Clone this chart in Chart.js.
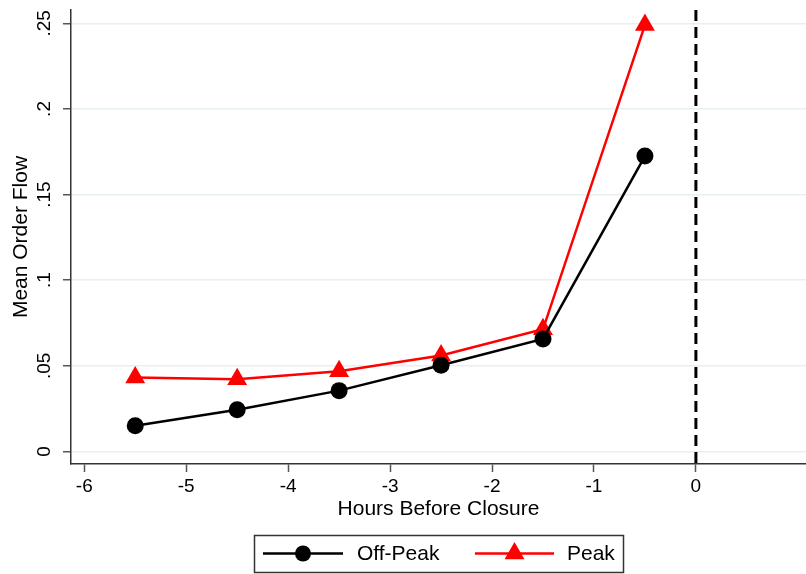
<!DOCTYPE html>
<html>
<head>
<meta charset="utf-8">
<script src="https://cdn.jsdelivr.net/npm/chart.js@4.4.0/dist/chart.umd.min.js"></script>
<style>
  html, body { margin: 0; padding: 0; background: #fff; }
  #wrap { width: 806px; height: 574px; }
</style>
</head>
<body>
<div id="wrap"><canvas id="flowChart"></canvas></div>
<script>
// hours before closure (x positions)
var hours = [-5.5, -4.5, -3.5, -2.5, -1.5, -0.5];
// mean order flow per series
var offPeak = [0.0150, 0.0243, 0.0355, 0.0503, 0.0657, 0.1725];
var peak = [0.0432, 0.0421, 0.0468, 0.0560, 0.0713, 0.2490];
var xTicks = [-6, -5, -4, -3, -2, -1, 0];
var yTicks = [0, 0.05, 0.1, 0.15, 0.2, 0.25];

var FONT = '"Liberation Sans", Arial, sans-serif';

function pts(ys) {
    return hours.map(function (h, i) { return { x: h, y: ys[i] }; });
}

function yLabel(v) {
    if (v === 0) return '0';
    return String(+v.toFixed(2)).replace(/^0/, '');
}

// y tick labels are vertical in the original, draw them rotated
var rotatedYLabels = {
    id: 'rotatedYLabels',
    afterDraw: function (chart) {
        var ctx = chart.ctx;
        var ys = chart.scales.y;
        ctx.save();
        ctx.fillStyle = '#000';
        ctx.font = '19px ' + FONT;
        ctx.textAlign = 'center';
        ctx.textBaseline = 'middle';
        yTicks.forEach(function (v) {
            var py = ys.getPixelForValue(v);
            ctx.save();
            ctx.translate(45, py);
            ctx.rotate(-Math.PI / 2);
            ctx.fillText(yLabel(v), 0, 0);
            ctx.restore();
        });
        ctx.restore();
    }
};

// dashed line at closure (x = 0)
var closureLine = {
    id: 'closureLine',
    beforeDatasetsDraw: function (chart) {
        var ctx = chart.ctx;
        var a = chart.chartArea;
        var px = chart.scales.x.getPixelForValue(0);
        ctx.save();
        ctx.strokeStyle = '#000';
        ctx.lineWidth = 3;
        ctx.setLineDash([11, 6]);
        ctx.beginPath();
        ctx.moveTo(px, a.top);
        ctx.lineTo(px, a.bottom);
        ctx.stroke();
        ctx.restore();
    }
};

// boxed legend under the chart
var boxLegend = {
    id: 'boxLegend',
    afterDraw: function (chart) {
        var ctx = chart.ctx;
        ctx.save();
        ctx.strokeStyle = '#333';
        ctx.lineWidth = 1.5;
        ctx.strokeRect(254.5, 535.5, 369, 37);
        var cy = 553.5;
        // Off-Peak
        ctx.strokeStyle = '#000';
        ctx.lineWidth = 2.5;
        ctx.beginPath();
        ctx.moveTo(263, cy); ctx.lineTo(343, cy); ctx.stroke();
        ctx.fillStyle = '#000';
        ctx.beginPath();
        ctx.arc(303, cy, 8, 0, Math.PI * 2); ctx.fill();
        // Peak
        ctx.strokeStyle = '#ff0000';
        ctx.lineWidth = 2.5;
        ctx.beginPath();
        ctx.moveTo(475, cy); ctx.lineTo(554, cy); ctx.stroke();
        ctx.fillStyle = '#ff0000';
        var r = 11.5;
        ctx.beginPath();
        ctx.moveTo(514.5, cy - r);
        ctx.lineTo(514.5 + r * 0.866, cy + r * 0.5);
        ctx.lineTo(514.5 - r * 0.866, cy + r * 0.5);
        ctx.closePath(); ctx.fill();
        ctx.fillStyle = '#000';
        ctx.font = '21px ' + FONT;
        ctx.textAlign = 'left';
        ctx.textBaseline = 'middle';
        ctx.fillText('Off-Peak', 357, cy + 1);
        ctx.fillText('Peak', 567, cy + 1);
        ctx.restore();
    }
};

var flowConfig = {
    type: 'line',
    data: {
        datasets: [{
            label: 'Off-Peak',
            data: pts(offPeak),
            borderColor: '#000',
            backgroundColor: '#000',
            borderWidth: 2.5,
            pointStyle: 'circle',
            pointRadius: 8.5,
            pointBorderWidth: 0,
            tension: 0
        }, {
            label: 'Peak',
            data: pts(peak),
            borderColor: '#ff0000',
            backgroundColor: '#ff0000',
            borderWidth: 2.5,
            pointStyle: 'triangle',
            pointRadius: 11.5,
            pointBorderWidth: 0,
            tension: 0
        }]
    },
    options: {
        responsive: true,
        maintainAspectRatio: false,
        animation: false,
        layout: {
            autoPadding: false,
            padding: { top: 10, right: 0, bottom: 54, left: 0 }
        },
        plugins: {
            legend: { display: false },
            tooltip: { enabled: false }
        },
        scales: {
            x: {
                type: 'linear',
                min: -6.13,
                max: 1.08,
                afterBuildTicks: function (s) {
                    s.ticks = xTicks.map(function (v) { return { value: v }; });
                },
                afterFit: function (s) {
                    s.height = 56;
                    s.paddingLeft = 0;
                    s.paddingRight = 0;
                },
                grid: {
                    drawOnChartArea: false,
                    tickLength: 8,
                    tickColor: '#555',
                    tickWidth: 1.5
                },
                border: { color: '#333', width: 1.5 },
                ticks: {
                    color: '#000',
                    font: { family: FONT, size: 19 },
                    padding: 3,
                    maxRotation: 0,
                    autoSkip: false
                },
                title: {
                    display: true,
                    text: 'Hours Before Closure',
                    color: '#000',
                    font: { family: FONT, size: 21, lineHeight: 1.0 },
                    padding: { top: 0, bottom: 0 }
                }
            },
            y: {
                min: -0.00735,
                max: 0.2578,
                afterBuildTicks: function (s) {
                    s.ticks = yTicks.map(function (v) { return { value: v }; });
                },
                afterFit: function (s) {
                    s.width = 71;
                    s.paddingTop = 0;
                    s.paddingBottom = 0;
                },
                grid: {
                    color: '#e8eff3',
                    lineWidth: 1.5,
                    tickLength: 8,
                    tickColor: '#555',
                    tickWidth: 1.5
                },
                border: { color: '#333', width: 1.5 },
                ticks: {
                    color: 'rgba(0,0,0,0)',
                    font: { family: FONT, size: 18 },
                    callback: function (v) { return yLabel(v); }
                },
                title: {
                    display: true,
                    text: 'Mean Order Flow',
                    color: '#000',
                    font: { family: FONT, size: 21, lineHeight: 1.0 },
                    padding: { top: 11, bottom: 0 }
                }
            }
        }
    },
    plugins: [closureLine, rotatedYLabels, boxLegend]
};

var flowChart = new Chart(document.getElementById('flowChart'), flowConfig);
</script>
</body>
</html>
